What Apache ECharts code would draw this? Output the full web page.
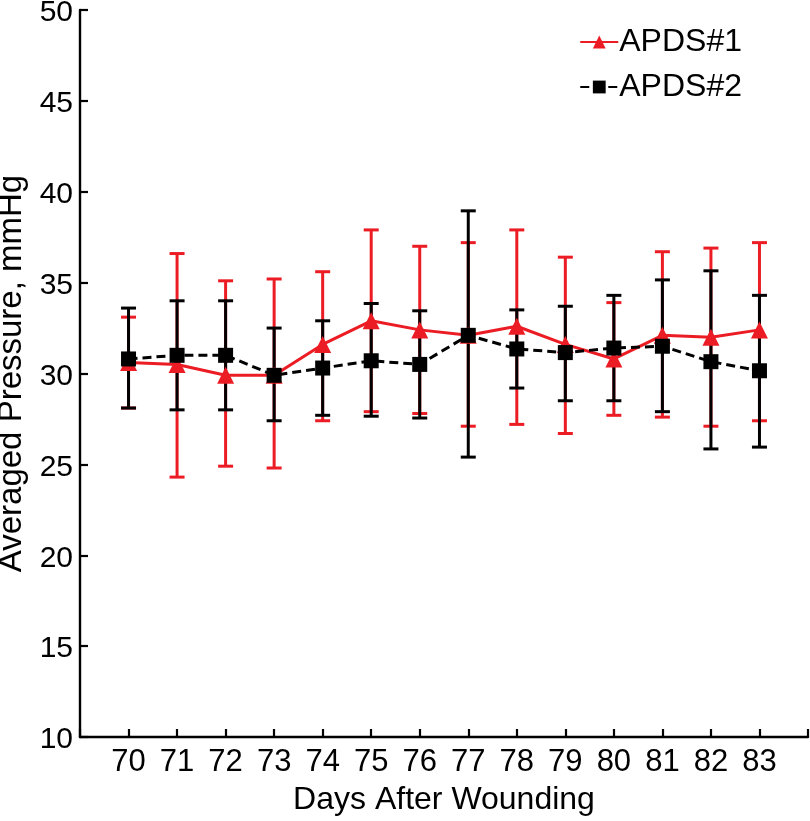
<!DOCTYPE html>
<html>
<head>
<meta charset="utf-8">
<script src="https://cdn.jsdelivr.net/npm/echarts@6/dist/echarts.min.js"></script>
<style>
html,body{margin:0;padding:0;background:#fff;}
#chart{width:810px;height:821px;}
</style>
</head>
<body>
<div id="chart"></div>
<script>
var days = [70, 71, 72, 73, 74, 75, 76, 77, 78, 79, 80, 81, 82, 83];
var apds1Mean = [30.6, 30.5, 29.9, 29.9, 31.6, 32.9, 32.4, 32.1, 32.6, 31.6, 30.8, 32.1, 32.0, 32.4];
var apds1Low  = [28.1, 24.3, 24.9, 24.8, 27.4, 27.9, 27.8, 27.1, 27.2, 26.7, 27.7, 27.6, 27.1, 27.4];
var apds1High = [33.1, 36.6, 35.1, 35.2, 35.6, 37.9, 37.0, 37.2, 37.9, 36.4, 33.9, 36.7, 36.9, 37.2];
var apds2Mean = [30.8, 31.0, 31.0, 29.9, 30.3, 30.7, 30.5, 32.1, 31.35, 31.15, 31.4, 31.5, 30.65, 30.15];
var apds2Low  = [28.1, 28.0, 28.0, 27.4, 27.7, 27.65, 27.55, 25.4, 29.2, 28.5, 28.5, 27.9, 25.85, 25.95];
var apds2High = [33.6, 34.0, 34.0, 32.5, 32.9, 33.85, 33.45, 38.95, 33.5, 33.7, 34.3, 35.15, 35.65, 34.3];
var xTickLabels = ['70','71','72','73','74','75','76','77','78','79','80','81','82','83'];
var yTickLabels = ['10','15','20','25','30','35','40','45','50'];

var RED = '#ec1c24';
var BLACK = '#000000';
var FONT = 'Liberation Sans';

function pairs(xs, ys) { return xs.map(function (x, i) { return [x, ys[i]]; }); }
function errData(xs, lo, hi) { return xs.map(function (x, i) { return [x, lo[i], hi[i]]; }); }

function errRender(color) {
  return function (params, api) {
    var x = api.value(0);
    var lo = api.coord([x, api.value(1)]);
    var hi = api.coord([x, api.value(2)]);
    var half = 7.5;
    var st = { stroke: color, lineWidth: 3 };
    return {
      type: 'group',
      children: [
        { type: 'line', shape: { x1: lo[0], y1: lo[1], x2: hi[0], y2: hi[1] }, style: st },
        { type: 'line', shape: { x1: lo[0] - half, y1: lo[1], x2: lo[0] + half, y2: lo[1] }, style: st },
        { type: 'line', shape: { x1: hi[0] - half, y1: hi[1], x2: hi[0] + half, y2: hi[1] }, style: st }
      ]
    };
  };
}

var chart = echarts.init(document.getElementById('chart'), null, { renderer: 'canvas' });
chart.setOption({
  backgroundColor: '#ffffff',
  animation: false,
  textStyle: { fontFamily: FONT },
  grid: { left: 80, right: 2, top: 10, bottom: 84, containLabel: false, outerBoundsMode: 'none' },
  legend: {
    orient: 'vertical',
    right: 63,
    top: 21,
    itemWidth: 38,
    itemHeight: 16,
    itemGap: 13,
    textStyle: { fontFamily: FONT, fontSize: 32, color: '#000', padding: [0, 0, 0, -4] },
    data: ['APDS#1', 'APDS#2']
  },
  xAxis: {
    type: 'value',
    min: 69, max: 84, interval: 1,
    name: 'Days After Wounding',
    nameLocation: 'middle',
    nameGap: 47,
    nameTextStyle: { fontFamily: FONT, fontSize: 32, color: '#000' },
    axisLine: { show: true, onZero: false, lineStyle: { color: '#000', width: 2.4 } },
    axisTick: { show: true, inside: true, length: 8, lineStyle: { color: '#000', width: 2.2 } },
    axisLabel: {
      fontFamily: FONT, fontSize: 31, color: '#000', margin: 10,
      formatter: function (v) { var i = days.indexOf(v); return i >= 0 ? xTickLabels[i] : ''; }
    },
    splitLine: { show: false }
  },
  yAxis: {
    type: 'value',
    min: 10, max: 50, interval: 5,
    name: 'Averaged Pressure, mmHg',
    nameLocation: 'middle',
    nameGap: 43,
    nameTextStyle: { fontFamily: FONT, fontSize: 33, color: '#000' },
    axisLine: { show: true, lineStyle: { color: '#000', width: 2.4 } },
    axisTick: { show: true, inside: true, length: 8, lineStyle: { color: '#000', width: 2.2 } },
    axisLabel: {
      fontFamily: FONT, fontSize: 30, color: '#000', margin: 7,
      formatter: function (v) { var i = (v - 10) / 5; return yTickLabels[i] ? '{v|' + yTickLabels[i] + '}' : ''; },
      rich: { v: { fontFamily: FONT, fontSize: 30, color: '#000', padding: [6, 0, 0, 0] } }
    },
    splitLine: { show: false }
  },
  series: [
    {
      name: 'APDS#1 err', type: 'custom', renderItem: errRender(RED),
      data: errData(days, apds1Low, apds1High), z: 2, silent: true
    },
    {
      name: 'APDS#2 err', type: 'custom', renderItem: errRender(BLACK),
      data: errData(days, apds2Low, apds2High), z: 3, silent: true
    },
    {
      name: 'APDS#1', type: 'line', data: pairs(days, apds1Mean),
      symbol: 'triangle', symbolSize: 17,
      lineStyle: { color: RED, width: 3, type: 'solid' },
      itemStyle: { color: RED, borderWidth: 0 },
      z: 4
    },
    {
      name: 'APDS#2', type: 'line', data: pairs(days, apds2Mean),
      symbol: 'rect', symbolSize: 15,
      lineStyle: { color: BLACK, width: 3, type: [9, 5] },
      itemStyle: { color: BLACK, borderWidth: 0 },
      z: 5
    }
  ]
});
</script>
</body>
</html>
